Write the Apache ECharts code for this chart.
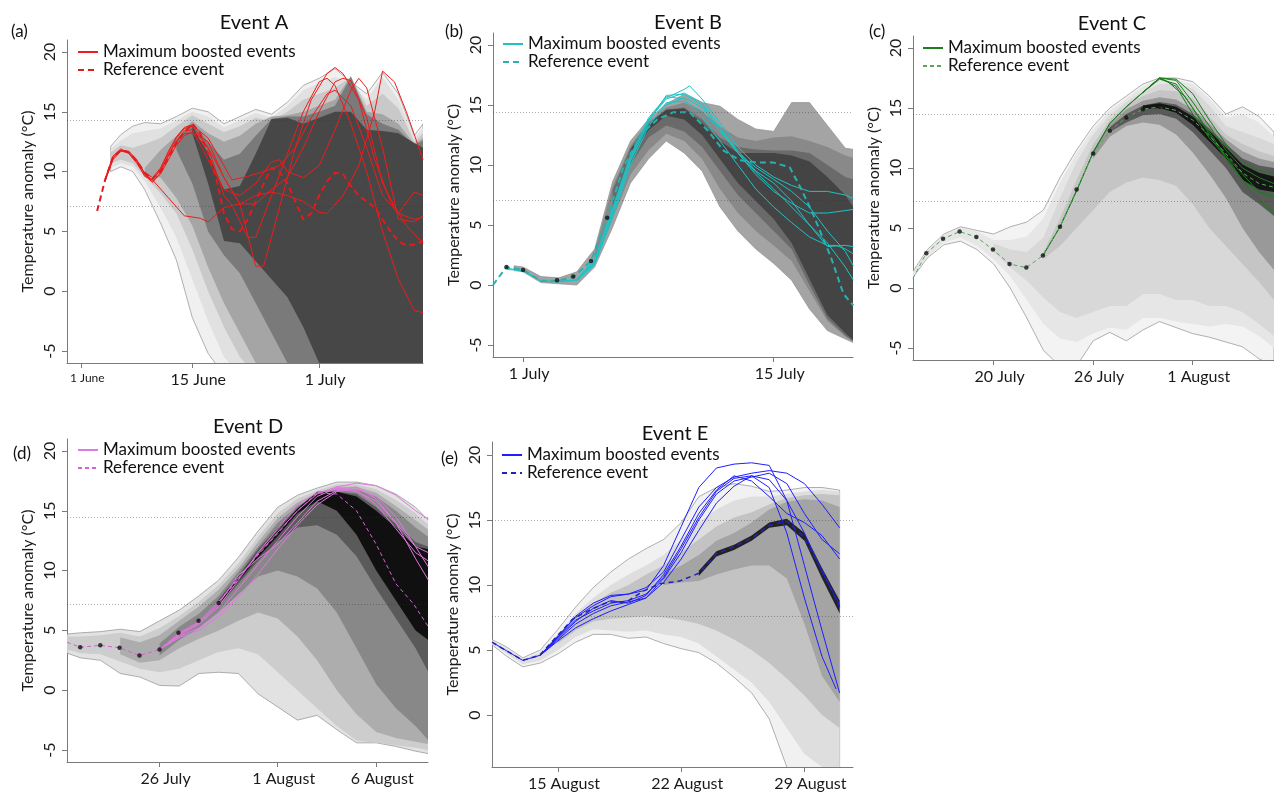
<!DOCTYPE html>
<html>
<head>
<meta charset="utf-8">
<title>Maximum boosted events</title>
<script src="https://cdn.jsdelivr.net/npm/echarts@6/dist/echarts.min.js"></script>
<style>
  html, body { margin: 0; background: #fff; }
  #chart { width: 1274px; height: 796px; }
</style>
</head>
<body>
<div id="chart"></div>
<script>
// x values are days counted from the first tick date of each panel
const yTicks = [-5, 0, 5, 10, 15, 20];
const yTicksE = [0, 5, 10, 15, 20];

const ticksA = [0, 14, 30];
const labelsA = ['1 June', '15 June', '1 July'];
const ticksB = [0, 14];
const labelsB = ['1 July', '15 July'];
const ticksC = [0, 6, 12];
const labelsC = ['20 July', '26 July', '1 August'];
const ticksD = [0, 6, 11];
const labelsD = ['26 July', '1 August', '6 August'];
const ticksE = [0, 7, 14];
const labelsE = ['15 August', '22 August', '29 August'];

const thrA = [14.3, 7.1];
const thrB = [14.4, 7.1];
const thrC = [14.5, 7.2];
const thrD = [14.5, 7.2];
const thrE = [15.0, 7.6];

// ---- Event A ----
const aDays = [3.7, 5, 6.5, 8, 10, 12, 14, 16, 18, 20, 22, 24, 26, 28, 30, 32, 34, 36, 38, 40, 42, 43.1];
const aUp1 = [12.1, 13.1, 13.8, 14.1, 14.0, 14.6, 15.3, 15.0, 14.0, 14.6, 15.2, 14.8, 15.8, 17.2, 17.8, 18.6, 17.5, 16.5, 18.3, 16.5, 13.0, 14.0];
const aLo1 = [10.0, 10.4, 10.0, 8.5, 5.7, 2.6, -2.2, -5.2, -7, -7, -7, -7, -7, -7, -7, -7, -7, -7, -7, -7, -7, -7];
const aUp2 = [11.9, 12.6, 13.2, 13.4, 13.6, 14.3, 15.0, 14.6, 13.7, 14.3, 14.9, 14.5, 15.5, 16.8, 17.4, 17.9, 17.4, 16.0, 17.9, 16.0, 12.8, 13.6];
const aLo2 = [10.3, 10.7, 10.4, 9.2, 7.0, 4.5, 1.0, -2.5, -5.5, -7, -7, -7, -7, -7, -7, -7, -7, -7, -7, -7, -7, -7];
const aUp3 = [11.6, 12.2, 12.0, 12.3, 12.8, 13.8, 14.7, 14.0, 13.3, 13.8, 14.5, 14.2, 15.0, 16.0, 16.5, 17.0, 17.9, 15.5, 16.5, 15.3, 12.5, 13.2];
const aLo3 = [10.7, 11.0, 10.7, 9.6, 8.2, 6.5, 3.5, 0.0, -3.0, -5.5, -7, -7, -7, -7, -7, -7, -7, -7, -7, -7, -7, -7];
const aUp4 = [null, null, null, 10.3, 11.8, 13.0, 14.2, 13.2, 12.5, 13.0, 14.0, 14.6, 14.7, 15.0, 15.5, 16.0, 18.0, 15.0, 14.8, 14.0, 12.3, 12.8];
const aLo4 = [null, null, null, 9.6, 9.5, 7.8, 5.5, 2.0, -1.0, -3.5, -6, -7, -7, -7, -7, -7, -7, -7, -7, -7, -7, -7];
const aUp5 = [null, null, null, null, null, 12.6, 14.0, 12.5, 11.0, 11.5, 13.0, 14.4, 14.6, 14.6, 15.0, 15.5, 17.9, 14.8, 14.0, 13.5, 12.2, 12.6];
const aLo5 = [null, null, null, null, null, 11.8, 9.0, 5.0, 3.0, 1.5, -1.0, -3.5, -6, -7, -7, -7, -7, -7, -7, -7, -7, -7];
const aUp6 = [null, null, null, null, null, null, 13.8, 11.5, 8.5, 8.8, 11.5, 14.4, 14.5, 14.0, 14.5, 15.0, 15.0, 13.5, 13.4, 13.2, 12.4, 12.0];
const aLo6 = [null, null, null, null, null, null, 13.2, 9.0, 4.2, 4.0, 2.5, 1.0, -0.5, -3.0, -6.0, -7, -7, -7, -7, -7, -7, -7];

const refA = [[2, 6.7], [3, 9.3], [4, 11.2], [5, 11.8], [6, 11.6], [7, 10.9], [8, 9.9], [9, 9.4], [10, 10.0], [11, 11.2], [12, 12.4], [13, 13.3], [14, 14.0], [15, 13.2], [16, 11.5], [17, 9.5], [18, 6.5], [19, 5.2], [20, 5.0], [21, 6.0], [22, 7.5], [23, 9.0], [24, 10.3], [25, 10.0], [26, 9.0], [27, 7.5], [28, 6.0], [29, 6.5], [30, 8.0], [31, 9.2], [32, 9.9], [33, 9.8], [34, 8.8], [35, 8.0], [36, 7.5], [37, 7.0], [38, 6.0], [39, 5.0], [40, 4.2], [41, 3.8], [42, 3.9], [43.1, 4.2]];
const boostA1 = [[3, 9.2], [4, 11.1], [5, 11.8], [6, 11.6], [7, 10.8], [8, 9.6], [9, 9.3], [10, 10.2], [11, 11.6], [12, 12.8], [13, 13.6], [14, 13.8], [16, 12.0], [18, 8.0], [19, 7.2], [21, 4.5], [22, 4.5], [24, 8.0], [26, 11.5], [28, 15.0], [30, 17.5], [31, 17.8], [32, 17.2], [34, 14.0], [36, 10.0], [38, 5.0], [40, 1.0], [42, -1.6], [43.1, -1.8]];
const boostA2 = [[3, 9.3], [4, 11.2], [5, 11.8], [6, 11.7], [7, 11.0], [8, 9.8], [9, 9.2], [10, 9.8], [11, 11.0], [12, 12.2], [13, 13.0], [14, 13.3], [16, 12.5], [18, 9.5], [20, 7.3], [22, 2.1], [23, 2.1], [25, 7.0], [27, 12.0], [29, 16.0], [31, 18.2], [32, 18.7], [33, 18.2], [35, 16.0], [37, 11.0], [39, 7.5], [41, 5.5], [43.1, 4.0]];
const boostA3 = [[8, 9.8], [9, 9.3], [11, 7.8], [13, 6.3], [15, 6.1], [16, 5.8], [18, 7.0], [20, 7.3], [22, 8.0], [24, 8.3], [26, 8.0], [28, 7.5], [30, 6.6], [31, 6.5], [33, 8.0], [35, 10.5], [37, 15.0], [38, 18.4], [39.5, 17.5], [41, 15.0], [43.1, 11.0]];
const boostA4 = [[3, 9.4], [4, 11.3], [5, 11.9], [6, 11.5], [7, 10.7], [8, 9.7], [9, 9.1], [10, 9.9], [11, 11.4], [12, 12.6], [13, 13.4], [14, 13.5], [16, 11.0], [18, 8.5], [20, 8.0], [22, 9.0], [24, 10.8], [25, 11.0], [26, 10.0], [28, 9.5], [30, 10.5], [32, 13.5], [34, 16.8], [35, 17.8], [36, 17.0], [38, 12.0], [40, 6.0], [42, 5.8], [43.1, 6.3]];
const boostA5 = [[3, 9.2], [4, 11.0], [5, 11.7], [6, 11.6], [7, 10.9], [8, 9.9], [9, 9.5], [10, 10.3], [11, 11.7], [12, 12.9], [13, 13.7], [14, 13.9], [16, 12.8], [18, 10.5], [19, 9.3], [21, 9.6], [23, 10.0], [25, 10.5], [27, 12.0], [29, 14.5], [31, 16.5], [32, 16.8], [34, 15.5], [36, 12.0], [38, 8.0], [40, 6.5], [42, 8.3], [43.1, 8.0]];
const boostA6 = [[9, 9.4], [10, 10.1], [11, 11.3], [12, 12.5], [13, 13.2], [14, 13.2], [16, 12.0], [18, 9.5], [20, 7.3], [22, 7.3], [24, 8.5], [26, 9.5], [28, 12.0], [30, 15.0], [32, 17.5], [33, 17.8], [34, 17.6], [36, 14.5], [38, 9.0], [40, 6.5], [42, 6.0], [43.1, 6.2]];

// ---- Event B ----
const bDays = [-0.5, 0, 1, 2, 3, 4, 5, 6, 7, 8, 9, 10, 11, 12, 13, 14, 15, 16, 17, 18, 18.45];
const bUp1 = [1.6, 1.5, 0.7, 0.6, 1.1, 3.0, 8.6, 12.0, 13.8, 15.1, 15.9, 15.2, 14.9, 13.8, 13.0, 12.8, 15.2, 15.2, 13.3, 11.4, 11.3];
const bLo1 = [1.2, 1.1, 0.2, 0.1, 0.0, 1.5, 4.8, 8.5, 10.5, 12.0, 11.0, 9.5, 6.5, 4.5, 3.0, 1.8, 0.4, -2.0, -3.8, -4.5, -4.8];
const bUp2 = [null, null, null, null, null, 2.8, 8.2, 11.6, 13.6, 14.8, 15.2, 14.5, 13.2, 12.3, 12.0, 12.3, 12.4, 12.0, 11.5, 10.8, 10.6];
const bLo2 = [null, null, null, null, null, 1.8, 5.5, 9.2, 11.2, 12.6, 12.0, 10.5, 8.0, 6.0, 4.5, 3.3, 2.0, -0.5, -3.0, -4.3, -4.7];
const bUp3 = [null, null, null, null, null, null, 7.9, 11.4, 13.5, 14.6, 14.8, 13.8, 12.3, 11.5, 11.3, 11.2, 11.2, 11.0, 10.0, 9.0, 8.8];
const bLo3 = [null, null, null, null, null, null, 6.2, 10.0, 12.3, 13.3, 12.8, 11.5, 9.5, 7.5, 6.0, 4.5, 3.0, 0.0, -2.8, -4.2, -4.7];
const bUp4 = [null, null, null, null, null, null, null, 11.3, 13.4, 14.6, 14.7, 13.5, 12.0, 11.0, 11.0, 11.0, 10.8, 10.3, 9.0, 7.5, 6.5];
const bLo4 = [null, null, null, null, null, null, null, 10.9, 12.9, 14.1, 13.8, 12.5, 10.5, 8.5, 7.0, 5.5, 3.5, 0.5, -2.5, -4.0, -4.6];

const refB = [[-1.68, 0.0], [-0.93, 1.5], [0, 1.25], [1, 0.35], [1.9, 0.35], [2.8, 0.65], [3.8, 2.0], [4.7, 5.6], [5.6, 9.8], [6.6, 12.6], [7.5, 13.8], [8.4, 14.4], [9.3, 14.4], [10.3, 12.9], [11.2, 11.2], [12.1, 10.4], [13.1, 10.2], [14, 10.2], [14.9, 9.8], [15.5, 8.1], [16.2, 5.9], [17.2, 2.3], [17.9, -0.75], [18.45, -1.7]];
const dotsB = [[-0.93, 1.5], [0, 1.25], [1.9, 0.4], [2.8, 0.7], [3.8, 2.0], [4.7, 5.6]];
const boostB1 = [[-0.93, 1.4], [0, 1.2], [1, 0.3], [2, 0.25], [3, 0.4], [4, 1.9], [5, 6.2], [6, 10.6], [7, 13.8], [8, 15.6], [9, 16.3], [9.3, 16.6], [10, 15.5], [11, 13.5], [12, 11.5], [13, 10.0], [14, 9.0], [15, 8.3], [16, 7.8], [17, 7.8], [18, 7.5], [18.45, 7.2]];
const boostB2 = [[-0.93, 1.3], [0, 1.2], [1, 0.35], [2, 0.3], [3, 0.45], [4, 1.8], [5, 5.8], [6, 10.3], [7, 13.6], [8, 15.8], [9, 15.9], [10, 15.0], [11, 13.0], [12, 11.0], [13, 9.2], [14, 7.8], [15, 6.8], [16, 6.0], [17, 6.0], [18, 6.2], [18.45, 6.3]];
const boostB3 = [[3, 0.5], [4, 2.1], [5, 6.4], [6, 10.8], [7, 13.9], [8, 15.7], [9, 15.5], [10, 14.0], [11, 12.0], [12, 10.0], [13, 8.0], [14, 6.5], [15, 5.2], [16, 4.0], [17, 3.3], [17.5, 3.3], [18, 3.0], [18.45, 2.6]];
const boostB4 = [[3, 0.3], [4, 1.7], [5, 5.6], [6, 10.0], [7, 13.2], [8, 15.2], [9, 15.3], [10, 14.5], [11, 12.8], [12, 11.0], [13, 9.8], [14, 8.8], [15, 7.8], [16, 6.5], [17, 4.5], [18, 2.8], [18.45, 1.6]];
const boostB5 = [[3, 0.4], [4, 1.9], [5, 6.0], [6, 10.4], [7, 13.4], [8, 15.0], [9, 15.6], [10, 14.8], [11, 13.0], [12, 11.2], [13, 9.5], [14, 8.5], [15, 7.0], [16, 5.0], [17, 3.5], [18, 1.5], [18.45, 0.4]];
const boostB6 = [[3, 0.45], [4, 2.0], [5, 6.1], [6, 10.6], [7, 13.7], [8, 15.5], [9, 16.0], [10, 15.2], [11, 13.2], [12, 11.0], [13, 9.4], [14, 8.0], [15, 6.5], [16, 5.0], [17, 3.2], [18, 3.3], [18.45, 3.2]];

// ---- Event C ----
const cDays = [-4.9, -4, -3, -2, -1, 0, 1, 2, 3, 4, 5, 6, 7, 8, 9, 10, 11, 12, 13, 14, 15, 16, 16.9];
const cUp1 = [1.3, 3.2, 4.5, 5.1, 4.8, 4.5, 5.1, 5.5, 6.5, 9.2, 11.5, 13.5, 15.0, 16.0, 17.0, 17.5, 17.5, 17.2, 16.0, 14.5, 15.1, 14.3, 13.0];
const cLo1 = [0.8, 2.5, 3.6, 3.9, 3.2, 2.0, 0.0, -2.5, -5.2, -6.5, -6.5, -4.4, -3.7, -4.4, -3.5, -2.8, -3.3, -3.8, -4.1, -4.5, -4.9, -5.9, -6.5];
const cUp2 = [1.2, 3.1, 4.4, 5.0, 4.7, 4.0, 4.0, 4.3, 5.8, 8.8, 11.2, 13.2, 14.8, 15.8, 16.8, 17.4, 17.3, 17.0, 15.8, 14.2, 14.5, 13.8, 12.6];
const cLo2 = [0.9, 2.6, 3.8, 4.2, 3.5, 2.4, 1.0, -1.0, -3.0, -4.2, -4.5, -3.8, -3.3, -3.5, -2.5, -2.5, -2.8, -3.0, -3.2, -3.0, -3.2, -4.0, -5.0];
const cUp3 = [null, null, null, null, null, 3.7, 3.2, 3.0, 4.2, 7.5, 10.5, 12.8, 14.4, 15.5, 16.4, 17.0, 17.0, 16.6, 15.2, 13.5, 13.0, 12.5, 12.0];
const cLo3 = [null, null, null, null, null, 3.0, 1.7, 0.6, -0.8, -2.0, -2.5, -2.0, -1.5, -1.5, -0.5, -0.5, -1.0, -1.0, -1.5, -1.5, -2.0, -3.0, -4.0];
const cUp4 = [null, null, null, null, null, null, null, null, 3.0, 5.8, 9.0, 12.0, 14.0, 15.2, 16.0, 16.5, 16.4, 15.8, 14.3, 12.8, 12.0, 11.4, 11.0];
const cLo4 = [null, null, null, null, null, null, null, null, 2.4, 3.5, 5.0, 6.5, 8.0, 8.8, 9.2, 9.0, 8.5, 7.0, 5.0, 3.5, 2.0, 0.5, -1.0];
const cUp5 = [null, null, null, null, null, null, null, null, null, null, null, 11.5, 13.6, 14.9, 15.6, 15.9, 15.7, 14.9, 13.7, 12.4, 11.4, 10.8, 10.5];
const cLo5 = [null, null, null, null, null, null, null, null, null, null, null, 10.8, 12.6, 13.5, 13.8, 13.6, 12.8, 11.3, 9.5, 7.5, 5.0, 3.0, 1.5];
const cUp6 = [null, null, null, null, null, null, null, null, null, null, null, null, 13.4, 14.5, 15.2, 15.5, 15.3, 14.5, 13.3, 12.0, 10.8, 10.2, 10.0];
const cLo6 = [null, null, null, null, null, null, null, null, null, null, null, null, 13.0, 13.8, 14.4, 14.5, 14.1, 13.0, 11.5, 10.0, 8.0, 7.0, 6.0];
const cUp7 = [null, null, null, null, null, null, null, null, null, null, null, null, null, null, 15.2, 15.4, 15.1, 14.3, 13.1, 11.7, 10.3, 9.6, 9.3];
const cLo7 = [null, null, null, null, null, null, null, null, null, null, null, null, null, null, 14.9, 15.0, 14.6, 13.6, 12.2, 10.8, 9.0, 8.2, 8.0];

const refC = [[-4.86, 0.8], [-4.06, 2.9], [-3.05, 4.1], [-2.05, 4.7], [-1.04, 4.25], [-0.04, 3.2], [0.96, 2.0], [1.97, 1.7], [2.97, 2.7], [4.0, 5.1], [5.0, 8.2], [6.0, 11.2], [7.0, 13.1], [8.0, 14.2], [9.0, 14.9], [10.0, 15.1], [11, 14.8], [12, 14.0], [13, 12.7], [14, 11.2], [15, 9.6], [16, 8.7], [16.9, 8.4]];
const dotsC = [[-4.06, 2.9], [-3.05, 4.1], [-2.05, 4.7], [-1.04, 4.25], [-0.04, 3.2], [0.96, 2.0], [1.97, 1.7], [2.97, 2.7], [4.0, 5.1], [5.0, 8.2], [6.0, 11.2], [7.0, 13.1], [8.0, 14.2], [9.0, 14.9], [10.0, 15.1]];
const boostC1 = [[2.97, 2.7], [4, 5.1], [5, 8.1], [6, 11.3], [7, 13.7], [8, 15.1], [9, 16.3], [10, 17.5], [11, 17.3], [12, 15.5], [13, 13.5], [14, 11.5], [15, 10.0], [16, 9.2], [16.9, 8.7]];
const boostC2 = [[2.97, 2.7], [4, 5.1], [5, 8.1], [6, 11.3], [7, 13.7], [8, 15.1], [9, 16.3], [10, 17.4], [11, 17.0], [12, 15.0], [13, 12.8], [14, 10.8], [15, 9.0], [16, 8.0], [16.9, 7.5]];
const boostC3 = [[9, 16.3], [10, 17.5], [10.5, 17.2], [11.5, 16.0], [12.5, 14.0], [13.5, 12.0], [14.5, 10.0], [15.5, 8.0], [16.9, 6.2]];
const boostC4 = [[9, 16.3], [10, 17.5], [11, 17.4], [12, 16.2], [13, 14.0], [14, 12.0], [15, 10.5], [16, 9.8], [16.9, 9.5]];
const boostC5 = [[9, 16.3], [10, 17.5], [11, 16.8], [12, 14.5], [13, 12.5], [14, 11.0], [15, 9.5], [16, 8.0], [16.9, 7.7]];

// ---- Event D ----
const dDays = [-4.7, -4, -3, -2, -1, 0, 1, 2, 3, 4, 5, 6, 7, 8, 9, 10, 11, 12, 13, 13.65];
const dUp1 = [4.7, 4.8, 4.9, 5.1, 4.9, 5.8, 6.7, 7.9, 9.2, 11.1, 13.3, 15.3, 16.3, 16.9, 17.4, 17.4, 17.1, 16.4, 15.3, 14.2];
const dLo1 = [3.1, 2.7, 2.5, 1.4, 1.1, 0.4, 0.35, 1.4, 1.5, 1.4, -0.3, -1.4, -2.5, -2.1, -3.3, -4.4, -4.4, -4.7, -5.1, -5.3];
const dUp2 = [4.5, 4.5, 4.6, 4.8, 4.5, 5.2, 6.2, 7.4, 8.8, 10.6, 12.8, 14.8, 16.0, 16.7, 17.2, 17.2, 16.8, 15.9, 14.8, 13.8];
const dLo2 = [3.4, 3.1, 3.0, 2.4, 1.8, 1.5, 1.8, 2.5, 3.2, 3.5, 3.0, 1.5, 0.0, -1.5, -3.0, -4.2, -4.4, -4.6, -4.8, -5.0];
const dUp3 = [null, null, null, 4.4, 4.0, 4.6, 5.8, 7.0, 8.4, 10.2, 12.4, 14.4, 15.7, 16.5, 17.0, 17.0, 16.5, 15.4, 14.2, 13.4];
const dLo3 = [null, null, null, 3.0, 2.3, 2.5, 3.5, 4.3, 5.0, 5.8, 6.5, 6.0, 4.5, 2.5, 0.0, -2.0, -3.5, -4.0, -4.3, -4.5];
const dUp4 = [null, null, null, null, null, 3.9, 5.3, 6.4, 7.9, 9.9, 12.0, 14.0, 15.4, 16.3, 16.8, 16.8, 16.2, 15.0, 13.6, 12.8];
const dLo4 = [null, null, null, null, null, 2.9, 4.2, 5.2, 6.5, 8.0, 9.5, 10.0, 9.5, 8.5, 6.5, 3.5, 0.5, -1.5, -3.0, -4.2];
const dUp5 = [null, null, null, null, null, null, null, null, 7.6, 9.6, 11.8, 13.6, 15.2, 16.3, 16.6, 16.4, 15.3, 13.9, 12.4, 12.0];
const dLo5 = [null, null, null, null, null, null, null, null, 7.0, 8.9, 10.8, 12.4, 13.6, 13.8, 13.0, 11.2, 8.5, 6.0, 3.5, 1.5];
const dUp6 = [null, null, null, null, null, null, null, null, 7.45, 9.5, 11.5, 13.3, 15.2, 16.6, 16.6, 16.2, 15.0, 13.6, 12.0, 11.8];
const dLo6 = [null, null, null, null, null, null, null, null, 7.15, 9.1, 11.1, 12.9, 14.8, 15.8, 15.0, 13.0, 10.0, 7.5, 5.0, 4.2];

const refD = [[-4.7, 4.0], [-4.03, 3.6], [-3.01, 3.75], [-2.03, 3.55], [-1.02, 2.9], [0, 3.4], [0.96, 4.8], [1.98, 5.8], [3.0, 7.3], [4, 9.3], [5, 11.3], [6, 13.1], [7, 15.0], [8, 16.5], [9, 16.4], [10, 15.0], [11, 12.2], [12, 8.9], [12.9, 7.2], [13.65, 5.3]];
const dotsD = [[-4.03, 3.6], [-3.01, 3.75], [-2.03, 3.55], [-1.02, 2.9], [0, 3.4], [0.96, 4.8], [1.98, 5.8], [3.0, 7.3]];
const boostD1 = [[0, 3.4], [1, 4.8], [2, 5.7], [3, 7.4], [4, 9.4], [5, 11.4], [6, 13.2], [7, 15.0], [8, 16.4], [9, 17.0], [10, 17.3], [11, 17.1], [12, 16.3], [13, 15.0], [13.65, 14.3]];
const boostD2 = [[0, 3.4], [1, 4.6], [2, 5.5], [3, 7.0], [4, 9.2], [5, 11.5], [6, 13.5], [7, 15.5], [8, 16.5], [9, 16.8], [10, 16.6], [11, 15.8], [12, 14.0], [13, 12.0], [13.65, 11.5]];
const boostD3 = [[0, 3.4], [1, 4.5], [2, 5.2], [3, 6.5], [4, 8.5], [5, 10.5], [6, 12.5], [7, 14.5], [8, 16.2], [9, 16.9], [10, 16.7], [11, 15.5], [12, 13.5], [13, 11.5], [13.65, 10.8]];
const boostD4 = [[0, 3.4], [1, 4.4], [2, 5.0], [3, 6.2], [4, 7.8], [5, 9.7], [6, 11.8], [7, 13.8], [8, 15.5], [9, 16.6], [10, 17.0], [11, 16.0], [12, 14.0], [13, 11.0], [13.65, 9.2]];
const boostD5 = [[0, 3.4], [1, 4.7], [2, 5.6], [3, 7.2], [4, 9.6], [5, 11.0], [6, 12.2], [7, 14.0], [8, 15.8], [9, 16.7], [10, 16.8], [11, 16.2], [12, 14.5], [13, 12.0], [13.65, 10.3]];

// ---- Event E ----
const eDays = [-3.75, -3, -2, -1, 0, 1, 2, 3, 4, 5, 6, 7, 8, 9, 10, 11, 12, 13, 14, 15, 16];
const eUp1 = [5.8, 5.3, 4.4, 5.0, 6.6, 8.3, 9.8, 11.0, 12.0, 12.8, 13.5, 14.8, 16.8, 17.5, 17.8, 17.6, 17.2, 17.3, 17.5, 17.5, 17.3];
const eLo1 = [5.4, 4.6, 3.7, 4.0, 4.7, 5.6, 6.2, 6.2, 5.9, 6.0, 5.5, 5.1, 4.8, 4.0, 2.9, 1.7, -0.3, -4, -5, -5, -5];
const eUp2 = [5.7, 5.2, 4.3, 4.8, 6.2, 7.8, 9.0, 10.0, 10.8, 11.5, 12.3, 13.5, 14.8, 15.8, 16.5, 16.8, 16.8, 17.0, 17.2, 17.3, 17.2];
const eLo2 = [5.5, 4.8, 3.9, 4.2, 5.0, 6.0, 6.6, 6.5, 6.4, 6.5, 6.2, 6.0, 5.5, 4.5, 3.5, 2.5, 1.0, -1.0, -3.0, -4.0, -4.0];
const eUp3 = [null, null, null, null, 6.0, 7.5, 8.6, 9.4, 10.0, 10.8, 11.5, 12.5, 13.5, 14.5, 15.2, 15.6, 16.2, 16.7, 16.9, 17.0, 16.9];
const eLo3 = [null, null, null, null, 5.5, 6.5, 7.2, 7.4, 7.5, 7.6, 7.5, 7.3, 7.0, 6.5, 5.8, 5.0, 4.0, 2.8, 1.5, 0.0, -1.0];
const eUp4 = [null, null, null, null, null, null, null, null, null, null, 10.8, 11.5, 12.3, 13.4, 14.0, 14.8, 15.8, 16.4, 16.6, 16.5, 16.0];
const eLo4 = [null, null, null, null, null, null, null, null, null, null, 10.0, 10.2, 10.3, 10.8, 11.2, 11.5, 11.5, 10.5, 7.0, 3.0, 1.0];
const eUp5 = [null, null, null, null, null, null, null, null, null, null, null, null, 11.1, 12.6, 13.1, 13.8, 14.8, 15.1, 14.0, 11.3, 8.8];
const eLo5 = [null, null, null, null, null, null, null, null, null, null, null, null, 10.7, 12.2, 12.7, 13.4, 14.4, 14.6, 13.4, 10.5, 7.8];

const refE = [[-3.75, 5.6], [-2, 4.2], [-1.04, 4.6], [-0.1, 6.0], [0.85, 7.4], [2, 8.2], [2.9, 8.7], [3.9, 8.7], [4.8, 9.5], [5.8, 10.1], [6.9, 10.3], [8.0, 10.9], [9.0, 12.4], [9.9, 12.9], [11, 13.6], [12, 14.6], [13, 14.9], [13.9, 13.8], [15.1, 10.9], [16, 8.3]];
const boostE1 = [[-3.75, 5.6], [-2, 4.2], [-1, 4.6], [0, 6.1], [1, 7.5], [2, 8.4], [3, 9.1], [4, 9.3], [5, 9.6], [6, 11.5], [7, 14.5], [8, 17.5], [9, 19.0], [10, 19.3], [11, 19.4], [12, 19.2], [13, 16.5], [14, 11.5], [15, 6.5], [16, 1.7]];
const boostE2 = [[-1, 4.6], [0, 6.0], [1, 7.3], [2, 8.0], [3, 8.6], [4, 8.8], [5, 9.3], [6, 10.6], [7, 12.8], [8, 15.2], [9, 17.2], [10, 18.2], [11, 18.4], [12, 17.5], [13, 14.0], [14, 9.0], [15, 4.5], [15.8, 2.0]];
const boostE3 = [[-1, 4.6], [0, 6.0], [1, 7.6], [2, 8.6], [3, 9.2], [4, 9.3], [5, 9.8], [6, 11.0], [7, 13.5], [8, 16.0], [9, 17.5], [10, 18.3], [11, 18.6], [12, 18.8], [13, 18.6], [14, 17.8], [15, 16.2], [16, 14.4]];
const boostE4 = [[-1, 4.6], [0, 5.8], [1, 7.0], [2, 7.8], [3, 8.4], [4, 8.7], [5, 9.0], [6, 10.5], [7, 12.5], [8, 15.0], [9, 17.0], [10, 18.0], [11, 18.3], [12, 18.6], [13, 17.8], [14, 15.5], [15, 13.5], [16, 12.4]];
const boostE5 = [[-1, 4.6], [0, 5.7], [1, 6.7], [2, 7.4], [3, 8.0], [4, 8.5], [5, 9.0], [6, 10.2], [7, 12.0], [8, 14.2], [9, 16.3], [10, 17.6], [11, 18.4], [12, 18.1], [13, 16.5], [14, 14.0], [15, 11.0], [16, 8.5]];
const boostE6 = [[-1, 4.6], [0, 5.9], [1, 7.2], [2, 8.2], [3, 8.8], [4, 8.6], [5, 9.2], [6, 10.8], [7, 13.0], [8, 15.5], [9, 17.3], [10, 18.4], [11, 18.0], [12, 16.8], [13, 15.5], [14, 14.8], [15, 13.8], [16, 12.0]];

// panel settings (layout and styles)
const panels = [
  {
    title: 'Event A', tag: '(a)', box: [67, 40, 356, 323], x: [-1.8, 43.1], y: [-6, 21], yTicks: yTicks,
    ticks: ticksA, labels: labelsA, smallFirst: true, thr: thrA,
    days: aDays, bands: [[aUp1, aLo1], [aUp2, aLo2], [aUp3, aLo3], [aUp4, aLo4], [aUp5, aLo5], [aUp6, aLo6]],
    shades: ['#f0f0f0', '#e1e1e1', '#c9c9c9', '#a5a5a5', '#7a7a7a', '#474747'],
    boosted: [boostA1, boostA2, boostA3, boostA4, boostA5, boostA6], ref: refA, dots: [],
    boostColor: '#ee1c1c', refColor: '#e41a1c', refWidth: 2, refDash: [6, 4],
    legendAt: [77, 43], titleAt: [249, 8], tagAt: [6, 18]
  },
  {
    title: 'Event B', tag: '(b)', box: [493, 33, 360, 324], x: [-1.68, 18.43], y: [-6, 21], yTicks: yTicks,
    ticks: ticksB, labels: labelsB, thr: thrB,
    days: bDays, bands: [[bUp1, bLo1], [bUp2, bLo2], [bUp3, bLo3], [bUp4, bLo4]],
    shades: ['#a4a4a4', '#898989', '#6a6a6a', '#444444'],
    boosted: [boostB1, boostB2, boostB3, boostB4, boostB5, boostB6], ref: refB, dots: dotsB,
    boostColor: '#1fc3c6', refColor: '#27b1b1', refWidth: 2, refDash: [6, 4],
    legendAt: [502, 35], titleAt: [683, 8], tagAt: [440, 18]
  },
  {
    title: 'Event C', tag: '(c)', box: [913, 36, 361, 324], x: [-4.86, 16.9], y: [-6, 21], yTicks: yTicks,
    ticks: ticksC, labels: labelsC, thr: thrC,
    days: cDays, bands: [[cUp1, cLo1], [cUp2, cLo2], [cUp3, cLo3], [cUp4, cLo4], [cUp5, cLo5], [cUp6, cLo6], [cUp7, cLo7]],
    shades: ['#f3f3f3', '#e6e6e6', '#d8d8d8', '#c5c5c5', '#999999', '#5a5a5a', '#151515'],
    boosted: [boostC1, boostC2, boostC3, boostC4, boostC5], ref: refC, dots: dotsC,
    boostColor: '#1c7d1c', refColor: '#5aa55a', refWidth: 1, refDash: [4, 3],
    legendAt: [922, 39], titleAt: [1107, 9], tagAt: [864, 18]
  },
  {
    title: 'Event D', tag: '(d)', box: [67, 439, 361, 323], x: [-4.7, 13.63], y: [-6, 21], yTicks: yTicks,
    ticks: ticksD, labels: labelsD, thr: thrD,
    days: dDays, bands: [[dUp1, dLo1], [dUp2, dLo2], [dUp3, dLo3], [dUp4, dLo4], [dUp5, dLo5], [dUp6, dLo6]],
    shades: ['#e2e2e2', '#cdcdcd', '#adadad', '#888888', '#5a5a5a', '#101010'],
    boosted: [boostD1, boostD2, boostD3, boostD4, boostD5], ref: refD, dots: dotsD,
    boostColor: '#e07ae0', refColor: '#d860d8', refWidth: 1, refDash: [4, 3],
    legendAt: [77, 441], titleAt: [243, 412], tagAt: [8, 440]
  },
  {
    title: 'Event E', tag: '(e)', box: [492, 442, 361, 325], x: [-3.75, 16.76], y: [-4, 21], yTicks: yTicksE,
    ticks: ticksE, labels: labelsE, thr: thrE,
    days: eDays, bands: [[eUp1, eLo1], [eUp2, eLo2], [eUp3, eLo3], [eUp4, eLo4], [eUp5, eLo5]],
    shades: ['#f1f1f1', '#dedede', '#c3c3c3', '#a4a4a4', '#222222'],
    boosted: [boostE1, boostE2, boostE3, boostE4, boostE5, boostE6], ref: refE, dots: [],
    boostColor: '#1e1eff', refColor: '#2222b4', refWidth: 1.5, refDash: [5, 4],
    legendAt: [501, 446], titleAt: [670, 419], tagAt: [436, 445]
  }
];

const chart = echarts.init(document.getElementById('chart'));

function bandSeries(p, days, up, lo, color, outline) {
  const pts = [];
  days.forEach((d, j) => {
    if (up[j] != null) pts.push([d, lo[j], up[j]]);
  });
  return {
    type: 'custom', xAxisIndex: p, yAxisIndex: p, silent: true, clip: true, z: 1,
    data: pts,
    encode: { x: 0, y: [1, 2] },
    renderItem: function (params, api) {
      if (params.dataIndex !== 0) return null;
      const top = pts.map(q => api.coord([q[0], q[2]]));
      const bot = pts.map(q => api.coord([q[0], q[1]])).reverse();
      return {
        type: 'polygon',
        shape: { points: top.concat(bot) },
        style: { fill: color, stroke: outline ? '#8f8f8f' : null, lineWidth: outline ? 0.7 : 0 }
      };
    }
  };
}

const option = {
  animation: false,
  textStyle: { fontFamily: 'Lato' },
  title: [], legend: [], grid: [], xAxis: [], yAxis: [], series: []
};

panels.forEach((p, i) => {
  option.grid.push({ left: p.box[0], top: p.box[1], width: p.box[2], height: p.box[3] });
  option.xAxis.push({
    gridIndex: i, type: 'value', min: p.x[0], max: p.x[1],
    axisLine: { show: true, onZero: false, lineStyle: { color: '#7a7a7a' } },
    axisTick: { show: true, length: 5, customValues: p.ticks, lineStyle: { color: '#7a7a7a' } },
    axisLabel: {
      customValues: p.ticks, fontSize: 16, color: '#1a1a1a', margin: 9, padding: [0, 0, 0, 12],
      formatter: function (v) {
        const k = p.ticks.indexOf(v);
        return (p.smallFirst && k === 0) ? '{s|' + p.labels[k] + '}' : p.labels[k];
      },
      rich: { s: { fontSize: 12, color: '#1a1a1a' } }
    },
    splitLine: { show: false }
  });
  option.yAxis.push({
    gridIndex: i, type: 'value', min: p.y[0], max: p.y[1],
    name: 'Temperature anomaly (°C)', nameLocation: 'middle', nameGap: 31,
    nameTextStyle: { fontSize: 16, color: '#1a1a1a' },
    axisLine: { show: true, onZero: false, lineStyle: { color: '#7a7a7a' } },
    axisTick: { show: true, length: 5, customValues: p.yTicks, lineStyle: { color: '#7a7a7a' } },
    axisLabel: { customValues: p.yTicks, rotate: 90, fontSize: 16, color: '#1a1a1a', margin: 9 },
    splitLine: { show: false }
  });

  option.title.push({
    text: p.title, left: p.titleAt[0], top: p.titleAt[1], textAlign: 'center',
    textStyle: { fontSize: 20, fontWeight: 'normal', color: '#111' }
  });
  option.title.push({
    text: p.tag, left: p.tagAt[0], top: p.tagAt[1],
    textStyle: { fontSize: 17, fontWeight: 'normal', color: '#111' }
  });

  option.legend.push({
    data: ['boost' + i, 'ref' + i], orient: 'vertical', left: p.legendAt[0], top: p.legendAt[1],
    itemWidth: 20, itemHeight: 12, itemGap: 0, selectedMode: false, padding: 0,
    lineStyle: { width: 2 },
    itemStyle: { opacity: 0 },
    textStyle: { fontSize: 17, lineHeight: 18, color: '#111' },
    formatter: n => n.indexOf('boost') === 0 ? 'Maximum boosted events' : 'Reference event'
  });

  p.bands.forEach((b, k) => {
    option.series.push(bandSeries(i, p.days, b[0], b[1], p.shades[k], k === 0));
  });

  p.boosted.forEach(line => {
    option.series.push({
      name: 'boost' + i, type: 'line', xAxisIndex: i, yAxisIndex: i, data: line,
      symbol: 'none', z: 3, silent: true,
      itemStyle: { color: p.boostColor },
      lineStyle: { color: p.boostColor, width: 1 }
    });
  });

  option.series.push({
    name: 'ref' + i, type: 'line', xAxisIndex: i, yAxisIndex: i, data: p.ref,
    symbol: 'none', z: 4, silent: true,
    itemStyle: { color: p.refColor },
    lineStyle: { color: p.refColor, width: p.refWidth, type: p.refDash },
    markLine: {
      silent: true, symbol: ['none', 'none'], label: { show: false },
      lineStyle: { color: '#333', type: [1, 2], width: 1, opacity: 0.4 },
      data: p.thr.map(v => ({ yAxis: v }))
    }
  });

  if (p.dots.length) {
    option.series.push({
      type: 'scatter', xAxisIndex: i, yAxisIndex: i, data: p.dots,
      symbolSize: 4.5, z: 5, silent: true, itemStyle: { color: '#111' }
    });
  }
});

chart.setOption(option);
</script>
</body>
</html>
